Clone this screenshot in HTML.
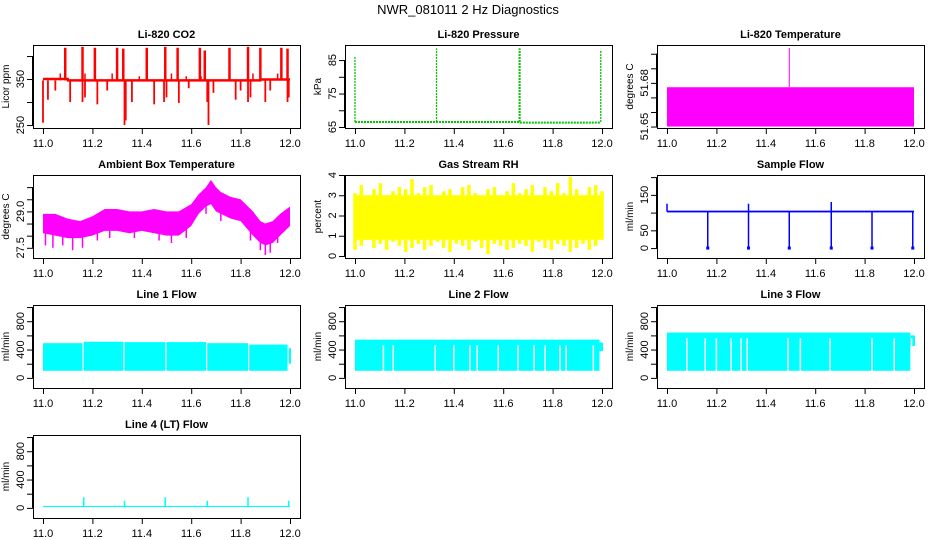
<!DOCTYPE html>
<html><head><meta charset="utf-8"><style>
body{margin:0;background:#fff}
svg{display:block;font-family:"Liberation Sans",Arial,sans-serif}
</style></head><body>
<svg id="c" width="936" height="540" viewBox="0 0 936 540">
<text x="468" y="14" text-anchor="middle" font-size="13">NWR_081011  2 Hz Diagnostics</text>
</svg>
<script>
// ---- data ----
const xTicks=[11.0,11.2,11.4,11.6,11.8,12.0];
const xTickLabels=["11.0","11.2","11.4","11.6","11.8","12.0"];
// CO2
const co2BaseX=[11.0,11.1,11.101,11.88,11.881,12.0];
const co2BaseY=[350,350,347,347,349,349];
const co2UpX=[11.09,11.16,11.21,11.30,11.325,11.42,11.495,11.545,11.635,11.655,11.755,11.83,11.88,11.965,11.99];
const co2UpY=[418,420,418,418,416,418,420,418,418,412,418,420,418,418,416];
const co2DnX=[11.0,11.02,11.05,11.11,11.16,11.17,11.22,11.26,11.33,11.335,11.36,11.45,11.49,11.50,11.55,11.59,11.665,11.67,11.69,11.78,11.80,11.83,11.84,11.90,11.92,11.99,11.995];
const co2DnY=[255,305,325,300,300,310,295,325,250,260,300,295,300,310,298,330,300,250,320,305,325,300,310,300,325,300,310];
const co2SmX=[11.07,11.17,11.28,11.39,11.52,11.58,11.64,11.85,11.95];
const co2SmY=[362,362,362,356,362,356,356,362,362];
// Pressure
const presX=[11.0,11.33,11.665,11.67,11.995];
const presBase=[66.5,66.5,66.5,66.3,66.3];
const presSpikeX=[11.0,11.33,11.665,11.668,11.995];
const presSpikeY=[86,88.5,88.5,88.5,88];
// Li-820 temperature
const tempBandLo=51.650, tempBandHi=51.677;
const tempSpikeX=[11.495]; const tempSpikeY=[51.704];
// Ambient box temperature
const ambX=[11.0,11.05,11.1,11.15,11.2,11.25,11.3,11.35,11.4,11.45,11.5,11.55,11.6,11.63,11.66,11.68,11.70,11.72,11.76,11.8,11.85,11.88,11.9,11.93,11.96,12.0];
const ambHi=[28.9,28.9,28.7,28.6,28.8,29.1,29.1,29.0,29.0,29.1,29.0,29.0,29.3,29.7,30.0,30.3,30.0,29.8,29.6,29.5,29.0,28.6,28.5,28.6,28.9,29.2];
const ambLo=[28.1,28.0,27.9,27.9,28.0,28.2,28.2,28.1,28.2,28.1,28.0,28.0,28.4,28.9,29.2,29.3,29.0,28.9,28.7,28.6,28.0,27.7,27.6,27.7,28.0,28.4];
const ambDnX=[11.01,11.04,11.08,11.12,11.16,11.22,11.27,11.37,11.47,11.52,11.58,11.66,11.72,11.84,11.88,11.90,11.92,11.95];
const ambDnY=[27.6,27.5,27.6,27.4,27.5,27.8,27.9,27.9,27.8,27.7,27.9,28.9,28.6,27.8,27.4,27.2,27.3,27.7];
// Gas stream RH
const rhHi=[3.1,3.5,2.9,3.3,3.6,3.0,3.2,3.4,3.3,3.8,3.1,3.4,3.5,2.9,3.2,3.3,3.0,3.4,3.5,3.1,2.8,3.3,3.4,3.0,3.2,3.6,3.1,3.3,3.5,3.0,3.4,3.2,3.6,3.1,3.9,3.3,3.0,3.4,3.5,3.2];
const rhLo=[0.3,0.5,0.8,0.4,0.6,0.3,0.7,0.5,0.2,0.4,0.6,0.3,0.5,0.7,0.4,0.2,0.6,0.5,0.3,0.7,0.4,0.1,0.6,0.5,0.3,0.4,0.6,0.5,0.2,0.7,0.4,0.3,0.6,0.5,0.2,0.4,0.6,0.3,0.5,0.8];
const rhCoreLo=0.8, rhCoreHi=3.0;
// Sample flow
const sfBase=103;
const sfDipX=[11.165,11.33,11.495,11.665,11.83,11.995];
const sfUpX=[11.0,11.33,11.665];
const sfUpY=[125,125,130];
// Line flows
const segStart=[11.0,11.165,11.33,11.5,11.665,11.835];
const segEnd=[11.16,11.325,11.495,11.66,11.83,11.99];
const l1Hi=[490,510,505,505,490,470];
const flowLo=100;
const l2Hi=540, l3Hi=640;
const l2Gaps=[11.115,11.155,11.325,11.40,11.465,11.495,11.58,11.66,11.725,11.77,11.83,11.855,11.965];
const l3Gaps=[11.08,11.155,11.20,11.26,11.30,11.325,11.49,11.54,11.66,11.83,11.92,11.99];
const l4Base=20;
const l4SpikeX=[11.165,11.33,11.495,11.665,11.83,11.995];
const l4SpikeY=[150,100,150,100,150,100];

// ---- layout ----
const NS="http://www.w3.org/2000/svg";
const svg=document.getElementById('c');
const colL=[33,345,657], rowT=[45,175,305,435], W=267, H=83;
function el(tag,attrs,parent){const e=document.createElementNS(NS,tag);for(const k in attrs)e.setAttribute(k,attrs[k]);(parent||svg).appendChild(e);return e;}

function panel(o){
  const L=colL[o.col], T=rowT[o.row];
  const g=el('g',{});
  
  
  const X=x=>L+10+(x-11)*247;
  const Y=y=>T+H-(y-o.ymin)/(o.ymax-o.ymin)*H;
  const clip='clip'+o.col+o.row;
  const cp=el('clipPath',{id:clip},g); el('rect',{x:L,y:T,width:W,height:H},cp);
  const dg=el('g',{'clip-path':'url(#'+clip+')'},g);
  
  
  o.draw(dg,X,Y);
  const box=el('rect',{x:L+.5,y:T+.5,width:W,height:H,fill:'none',stroke:'#000','stroke-width':1},g);
  
  
  const t=el('text',{x:L+W/2,y:T-7,'text-anchor':'middle','font-size':11,'font-weight':'bold'},g);
  t.textContent=o.title;
  
  
  const xa=el('g',{},g);
  
  
  el('line',{x1:X(11),x2:X(12),y1:T+H+.5,y2:T+H+.5,stroke:'#000'},xa);
  xTicks.forEach((v,i)=>{
    el('line',{x1:X(v)+.5,x2:X(v)+.5,y1:T+H,y2:T+H+6,stroke:'#000'},xa);
    const tx=el('text',{x:X(v),y:T+H+19,'text-anchor':'middle','font-size':11},xa);
    tx.textContent=xTickLabels[i];
    
    
  });
  const ya=el('g',{},g);
  
  
  el('line',{x1:L-.5,x2:L-.5,y1:Y(o.yt[0]),y2:Y(o.yt[o.yt.length-1]),stroke:'#000'},ya);
  o.yt.forEach(v=>el('line',{x1:L-6,x2:L,y1:Y(v)+.5,y2:Y(v)+.5,stroke:'#000'},ya));
  o.yl.forEach((v,i)=>{
    const yy=Y(v);
    const tx=el('text',{x:L-9,y:yy,'text-anchor':'middle','font-size':11,transform:`rotate(-90 ${L-9} ${yy})`},ya);
    tx.textContent=o.ylt[i];
    
    
  });
  const yl=el('text',{x:L-24,y:T+H/2,'text-anchor':'middle','font-size':10,transform:`rotate(-90 ${L-24} ${T+H/2})`},g);
  yl.textContent=o.ylab;
  
  
}
function ln(g,x1,y1,x2,y2,c,w,extra){const a={x1,y1,x2,y2,stroke:c,'stroke-width':w||1};Object.assign(a,extra||{});return el('line',a,g);}
function rc(g,x1,y1,x2,y2,c){return el('rect',{x:Math.min(x1,x2),y:Math.min(y1,y2),width:Math.abs(x2-x1),height:Math.abs(y2-y1),fill:c},g);}
function interp(xs,ys,x){for(let i=1;i<xs.length;i++){if(x<=xs[i]){const t=(x-xs[i-1])/(xs[i]-xs[i-1]);return ys[i-1]+t*(ys[i]-ys[i-1]);}}return ys[ys.length-1];}

panel({name:'co2',col:0,row:0,title:'Li-820 CO2',ylab:'Licor ppm',ymin:243.5,ymax:424,yt:[250,300,350,400],yl:[250,350],ylt:['250','350'],draw:(g,X,Y)=>{
  const c='#ff0000';
  let d='';co2BaseX.forEach((x,i)=>d+=(i?'L':'M')+X(x)+' '+Y(co2BaseY[i]));
  el('path',{d,fill:'none',stroke:c,'stroke-width':2.5},g);
  co2UpX.forEach((x,i)=>ln(g,X(x),Y(347),X(x),Y(co2UpY[i]),c,2.5));
  co2DnX.forEach((x,i)=>ln(g,X(x),Y(347),X(x),Y(co2DnY[i]),c,1.8));
  co2SmX.forEach((x,i)=>ln(g,X(x),Y(347),X(x),Y(co2SmY[i]),c,1.5));
}});
panel({name:'pressure',col:1,row:0,title:'Li-820 Pressure',ylab:'kPa',ymin:64.7,ymax:89.5,yt:[65,70,75,80,85],yl:[65,75,85],ylt:['65','75','85'],draw:(g,X,Y)=>{
  const c='#00c800';
  let d='';presX.forEach((x,i)=>d+=(i?'L':'M')+X(x)+' '+Y(presBase[i]));
  el('path',{d,fill:'none',stroke:c,'stroke-width':2,'stroke-dasharray':'2 1'},g);
  presSpikeX.forEach((x,i)=>ln(g,X(x),Y(presBase[0]),X(x),Y(presSpikeY[i]),c,1.3,{'stroke-dasharray':'2 1'}));
}});
panel({name:'li820-temperature',col:2,row:0,title:'Li-820 Temperature',ylab:'degrees C',ymin:51.649,ymax:51.706,yt:[51.65,51.66,51.67,51.68,51.69,51.70],yl:[51.65,51.68],ylt:['51.65','51.68'],draw:(g,X,Y)=>{
  const c='#ff00ff';
  rc(g,X(11.0),Y(tempBandLo),X(12.0),Y(tempBandHi),c);
  tempSpikeX.forEach((x,i)=>ln(g,X(x),Y(tempBandHi),X(x),Y(tempSpikeY[i]),c,1));
}});
panel({name:'ambient-temperature',col:0,row:1,title:'Ambient Box Temperature',ylab:'degrees C',ymin:27.08,ymax:30.5,yt:[27.5,28,28.5,29,29.5,30],yl:[27.5,29],ylt:['27.5','29.0'],draw:(g,X,Y)=>{
  const c='#ff00ff';
  let d='';ambX.forEach((x,i)=>d+=(i?'L':'M')+X(x)+' '+Y(ambHi[i]));
  for(let i=ambX.length-1;i>=0;i--)d+='L'+X(ambX[i])+' '+Y(ambLo[i]);
  el('path',{d:d+'Z',fill:c},g);
  ambDnX.forEach((x,i)=>ln(g,X(x),Y(interp(ambX,ambLo,x)+0.2),X(x),Y(ambDnY[i]),c,1.5));
}});
panel({name:'gas-stream-rh',col:1,row:1,title:'Gas Stream RH',ylab:'percent',ymin:-0.1,ymax:4.0,yt:[0,1,2,3,4],yl:[0,1,2,3,4],ylt:['0','1','2','3','4'],draw:(g,X,Y)=>{
  const c='#ffff00';
  rc(g,X(11.0),Y(rhCoreLo),X(12.0),Y(rhCoreHi),c);
  const n=rhHi.length;
  rhHi.forEach((h,i)=>{const x=X(11+i/(n-1));ln(g,x,Y(rhLo[i]),x,Y(h),c,3.5);});
}});
panel({name:'sample-flow',col:2,row:1,title:'Sample Flow',ylab:'ml/min',ymin:-28,ymax:206,yt:[0,50,100,150,200],yl:[0,50,150],ylt:['0','50','150'],draw:(g,X,Y)=>{
  const c='#0000ff';
  rc(g,X(11.0),Y(sfBase-2.5),X(12.0),Y(sfBase+2.5),c);
  sfDipX.forEach(x=>{ln(g,X(x),Y(sfBase),X(x),Y(0),c,1.5);rc(g,X(x)-1.5,Y(0)-1.5,X(x)+1.5,Y(0)+1.5,c);});
  sfUpX.forEach((x,i)=>ln(g,X(x),Y(sfBase),X(x),Y(sfUpY[i]),c,1.5));
}});
const fyt=[0,200,400,600,800,1000], fyl=[0,400,800], fylt=['0','400','800'];
panel({name:'line1-flow',col:0,row:2,title:'Line 1 Flow',ylab:'ml/min',ymin:-143,ymax:1029,yt:fyt,yl:fyl,ylt:fylt,draw:(g,X,Y)=>{
  const c='#00ffff';
  segStart.forEach((s,i)=>rc(g,X(s),Y(flowLo),X(segEnd[i]),Y(l1Hi[i]),c));
  rc(g,X(11.995),Y(200),X(12.0)+1,Y(420),c);
}});
panel({name:'line2-flow',col:1,row:2,title:'Line 2 Flow',ylab:'ml/min',ymin:-143,ymax:1029,yt:fyt,yl:fyl,ylt:fylt,draw:(g,X,Y)=>{
  const c='#00ffff';
  rc(g,X(11.0),Y(flowLo),X(11.99),Y(l2Hi),c);
  rc(g,X(11.99),Y(380),X(12.0)+1,Y(500),c);
  l2Gaps.forEach(x=>ln(g,X(x),Y(flowLo),X(x),Y(l2Hi-80),'#fff',1.5));
}});
panel({name:'line3-flow',col:2,row:2,title:'Line 3 Flow',ylab:'ml/min',ymin:-143,ymax:1029,yt:fyt,yl:fyl,ylt:fylt,draw:(g,X,Y)=>{
  const c='#00ffff';
  rc(g,X(11.0),Y(flowLo),X(11.985),Y(l3Hi),c);
  rc(g,X(11.985),Y(450),X(12.0)+1,Y(600),c);
  l3Gaps.forEach(x=>ln(g,X(x),Y(flowLo),X(x),Y(l3Hi-80),'#fff',1.5));
}});
panel({name:'line4-flow',col:0,row:3,title:'Line 4 (LT) Flow',ylab:'ml/min',ymin:-143,ymax:1029,yt:fyt,yl:fyl,ylt:fylt,draw:(g,X,Y)=>{
  const c='#00ffff';
  rc(g,X(11.0),Y(l4Base-8),X(12.0),Y(l4Base+8),c);
  l4SpikeX.forEach((x,i)=>ln(g,X(x),Y(l4Base),X(x),Y(l4SpikeY[i]),c,1.5));
}});
</script>
</body></html>
